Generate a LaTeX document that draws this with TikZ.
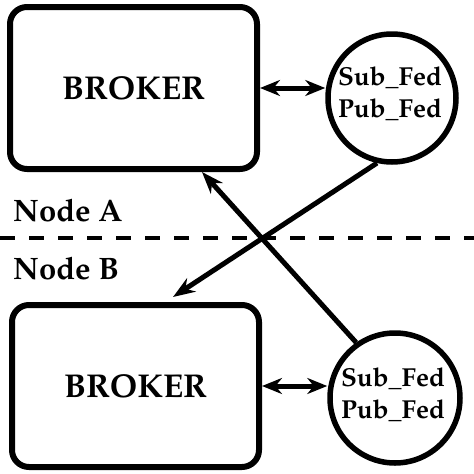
\documentclass[tikz,border=0pt]{standalone}
\usepackage[T1]{fontenc}
\usepackage{mathpazo}
\usetikzlibrary{arrows.meta}
\begin{document}
\begin{tikzpicture}[x=1pt,y=-1pt,
  broker/.style={draw, line width=6pt, rounded corners=17pt, minimum width=247pt,
    minimum height=162pt, inner sep=0pt, font=\fontsize{33}{38}\selectfont\bfseries},
  fed/.style={draw, circle, line width=5.5pt, minimum size=128pt, inner sep=0pt},
  fedtxt/.style={align=center, inner sep=0pt, font=\fontsize{26}{32}\selectfont\bfseries},
  lbl/.style={anchor=west, inner sep=0pt, font=\fontsize{31}{36}\selectfont\bfseries},
  dbl/.style={line width=5pt, {Stealth[length=20pt,width=16pt]}-{Stealth[length=20pt,width=16pt]}},
  conn/.style={line width=5pt, -{Stealth[length=22pt,width=16pt]}},
  sep/.style={line width=3.5pt, dash pattern=on 15pt off 14pt}]
\useasboundingbox (0,0) rectangle (474,474);
\node[broker] (topbox) at (133.5,88) {BROKER};
\node[broker] (botbox) at (135.5,386) {BROKER};
\node[fed] (topfed) at (392,98) {};
\node[fed, minimum size=130pt] (botfed) at (395,398) {};
\node[fedtxt] (toptxt) at (390,94) {Sub\_Fed\\Pub\_Fed};
\node[fedtxt] (bottxt) at (393,395) {Sub\_Fed\\Pub\_Fed};
\node[lbl] (nodea) at (13,210) {Node A};
\node[lbl] (nodeb) at (13,268) {Node B};
\coordinate (sepl) at (0,238);
\coordinate (sepr) at (474,238);
\draw[sep] (sepl) -- (sepr);
\draw[dbl] (topbox.east) -- (topbox.east -| topfed.west);
\draw[dbl] (botbox.east) -- (botbox.east -| botfed.west);
\coordinate (tipA) at (173,297);
\coordinate (tipB) at (202,172);
\draw[conn] (topfed.257) -- (tipA);
\draw[conn] (botfed.125.6) -- (tipB);
\end{tikzpicture}
\end{document}
